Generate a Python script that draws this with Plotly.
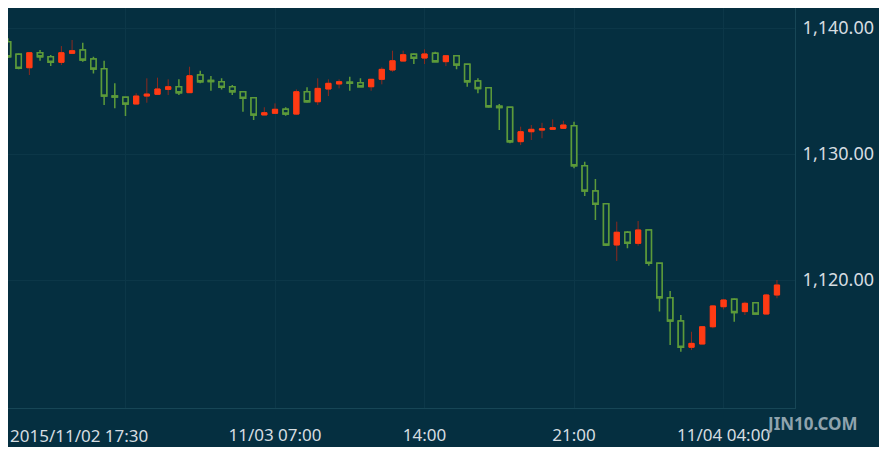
import pandas as pd
import plotly.graph_objects as go

# 30-minute bars, first bar 2015-11-02 18:30
times = pd.date_range("2015-11-02 18:30", periods=73, freq="30min")

opens = [
    1138.91, 1137.91, 1136.85, 1138.04, 1137.72, 1137.28, 1137.99, 1138.25, 1137.54, 1136.77,
    1134.60, 1134.50, 1133.97, 1134.60, 1134.74, 1135.13, 1135.34, 1134.87, 1136.27, 1135.83,
    1135.74, 1135.34, 1134.94, 1134.47, 1133.10, 1133.23, 1133.55, 1133.17, 1134.94, 1134.15,
    1135.16, 1135.56, 1135.70, 1135.66, 1135.34, 1135.93, 1136.67, 1137.38, 1137.91, 1137.62,
    1137.99, 1137.33, 1137.80, 1137.12, 1135.79, 1135.26, 1133.80, 1133.71, 1130.98, 1131.77,
    1131.90, 1131.96, 1132.04, 1132.25, 1129.07, 1127.06, 1126.06, 1122.78, 1123.79, 1122.91,
    1123.97, 1121.33, 1118.60, 1116.75, 1114.66, 1114.92, 1116.29, 1117.88, 1118.47, 1117.49,
    1118.20, 1117.30, 1118.81,
]
highs = [
    1139.18, 1137.99, 1138.04, 1138.25, 1137.86, 1138.57, 1139.05, 1138.83, 1137.72, 1137.40,
    1135.61, 1134.55, 1134.82, 1136.01, 1136.06, 1135.93, 1135.93, 1136.93, 1136.61, 1136.19,
    1136.01, 1135.48, 1134.98, 1134.50, 1133.71, 1134.02, 1133.71, 1135.13, 1135.29, 1136.01,
    1135.93, 1135.93, 1136.13, 1136.01, 1135.95, 1136.88, 1138.20, 1138.20, 1137.99, 1138.31,
    1138.12, 1137.85, 1137.85, 1137.12, 1136.01, 1135.26, 1133.97, 1133.75, 1132.17, 1132.30,
    1132.48, 1132.75, 1132.64, 1132.56, 1129.39, 1128.02, 1126.10, 1124.63, 1123.89, 1124.68,
    1124.00, 1121.35, 1119.13, 1117.22, 1115.89, 1116.35, 1118.00, 1118.50, 1118.55, 1118.28,
    1118.25, 1118.90, 1120.00,
]
lows = [
    1137.62, 1136.72, 1136.27, 1137.40, 1136.98, 1137.06, 1137.99, 1137.33, 1136.40, 1133.89,
    1133.63, 1133.02, 1133.97, 1134.07, 1134.74, 1134.68, 1134.68, 1134.87, 1135.61, 1135.02,
    1135.13, 1134.68, 1133.36, 1132.70, 1133.10, 1133.20, 1133.04, 1133.10, 1134.07, 1133.89,
    1134.60, 1135.21, 1135.02, 1135.34, 1135.02, 1135.53, 1136.53, 1137.38, 1137.14, 1137.14,
    1137.30, 1136.98, 1136.72, 1135.34, 1134.82, 1133.67, 1131.90, 1130.85, 1130.71, 1131.11,
    1131.25, 1131.96, 1132.04, 1128.87, 1126.67, 1124.76, 1122.70, 1121.51, 1122.52, 1122.72,
    1121.14, 1117.49, 1114.84, 1114.31, 1114.44, 1114.92, 1116.17, 1117.67, 1116.69, 1117.22,
    1117.25, 1117.30, 1118.55,
]
closes = [
    1137.72, 1136.80, 1138.04, 1137.72, 1137.28, 1138.04, 1138.20, 1137.46, 1136.75, 1134.60,
    1134.52, 1133.97, 1134.60, 1134.76, 1135.16, 1135.34, 1134.87, 1136.21, 1135.74, 1135.75,
    1135.29, 1134.94, 1134.42, 1133.10, 1133.28, 1133.55, 1133.17, 1134.94, 1134.15, 1135.21,
    1135.61, 1135.74, 1135.62, 1135.34, 1135.93, 1136.72, 1137.40, 1137.88, 1137.60, 1137.94,
    1137.33, 1137.80, 1137.06, 1135.74, 1135.21, 1133.75, 1133.70, 1130.98, 1131.77, 1131.96,
    1132.00, 1132.09, 1132.30, 1129.07, 1127.06, 1126.01, 1122.78, 1123.79, 1122.91, 1123.97,
    1121.33, 1118.60, 1116.75, 1114.66, 1114.97, 1116.29, 1117.94, 1118.41, 1117.43, 1118.15,
    1117.30, 1118.81, 1119.60,
]

tick_vals = ["2015-11-03 00:00", "2015-11-03 07:00", "2015-11-03 14:00",
             "2015-11-03 21:00", "2015-11-04 04:00"]
tick_text = ["", "11/03 07:00", "14:00", "21:00", "11/04 04:00"]
first_label = "2015/11/02 17:30"

BG = "#052f40"
GRID = "#0c3748"
RED = "#ff3b14"
RED_WICK = "#8c2a1e"
GREEN = "#5c9a3a"
TEXT = "#d6dde1"

body_hi = [max(o, c) for o, c in zip(opens, closes)]
body_lo = [min(o, c) for o, c in zip(opens, closes)]

fig = go.Figure()

# full candles: wicks (dark red for up bars, green for down bars)
fig.add_trace(go.Candlestick(
    x=times, open=opens, high=highs, low=lows, close=closes,
    increasing=dict(line=dict(color=RED_WICK, width=1), fillcolor=RED),
    decreasing=dict(line=dict(color=GREEN, width=1.5), fillcolor=BG),
    hoverinfo="skip", showlegend=False,
))
# bodies only, drawn on top so up bars have a bright border
fig.add_trace(go.Candlestick(
    x=times, open=opens, high=body_hi, low=body_lo, close=closes,
    increasing=dict(line=dict(color=RED, width=1), fillcolor=RED),
    decreasing=dict(line=dict(color=GREEN, width=1.5), fillcolor=BG),
    hoverinfo="skip", showlegend=False,
))

fig.update_layout(
    width=887, height=453,
    margin=dict(l=0, r=100, t=0, b=53),
    paper_bgcolor=BG, plot_bgcolor=BG,
    font=dict(family="Noto Sans", size=17, color=TEXT),
    boxgap=0.3,
    xaxis=dict(
        type="date",
        range=["2015-11-02 18:30:00", "2015-11-04 07:20:40"],
        rangeslider=dict(visible=False),
        tickvals=tick_vals, ticktext=tick_text,
        showgrid=True, gridcolor=GRID, gridwidth=1,
        showline=True, linecolor="#174656", linewidth=1,
        ticks="", ticklabelstandoff=12,
        zeroline=False,
    ),
    yaxis=dict(
        side="right",
        range=[1109.84, 1141.59],
        tickvals=[1120, 1130, 1140],
        tickformat=",.2f",
        tickfont=dict(size=18),
        showgrid=True, gridcolor=GRID, gridwidth=1,
        showline=True, linecolor="#174656", linewidth=1,
        ticks="", ticklabelstandoff=3,
        zeroline=False,
    ),
)

# left-most time label sits at the left edge of the plot
fig.add_annotation(
    text=first_label, xref="paper", yref="paper", x=0, y=0,
    xanchor="left", yanchor="top", yshift=-14,
    showarrow=False, font=dict(family="Noto Sans", size=17, color=TEXT),
)
# watermark
fig.add_annotation(
    text="<b>JIN10.COM</b>", xref="paper", yref="paper", x=1.0216, y=-0.0375,
    xanchor="center", yanchor="middle", showarrow=False,
    font=dict(family="Noto Sans", size=17, color="#8fa3ad"),
)

# white strip at the bottom of the picture
fig.add_shape(type="rect", xref="paper", yref="paper", x0=-0.01, x1=1.2, y0=-0.0975, y1=-0.2,
              fillcolor="white", line=dict(width=0), layer="above")

fig.write_html("out.html")
